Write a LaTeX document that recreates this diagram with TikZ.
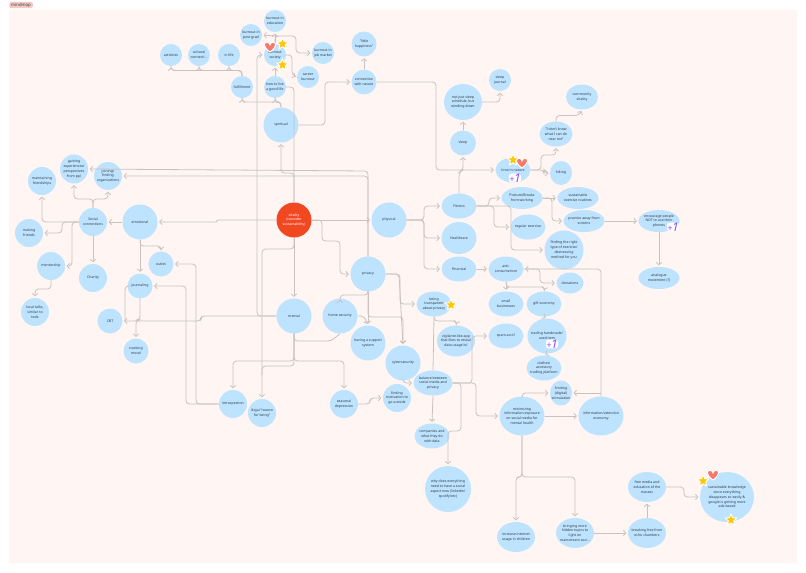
\documentclass[tikz,border=0pt]{standalone}
\usepackage{fontspec}
\setmainfont{Noto Sans}
\usetikzlibrary{arrows.meta, shapes.geometric}

\definecolor{panel}{HTML}{FFF5F3}
\definecolor{bubble}{HTML}{BDE3FF}
\definecolor{hub}{HTML}{F24822}
\definecolor{wire}{HTML}{C9C2BE}
\definecolor{inkgray}{HTML}{2F3B45}
\definecolor{tagpink}{HTML}{F6C9C2}
\definecolor{sunny}{HTML}{FFC700}
\definecolor{salmon}{HTML}{F8796A}
\definecolor{violet}{HTML}{9747FF}

\tikzset{
    x=1pt, y=-1pt,
    idea/.style 2 args={ellipse, fill=bubble, text=inkgray, minimum width=#1pt, minimum height=#2pt,
        inner sep=-6pt, align=center, font=\fontsize{3.5}{4.8}\selectfont},
    link/.style={draw=wire, line width=0.8pt, rounded corners=3.5pt},
    pointer/.style={link, -{Straight Barb[length=2.4pt, width=5.5pt]}, shorten >=1.5pt},
    starmark/.style={star, star points=5, star point ratio=2.1, fill=sunny, draw=white, line width=0.9pt,
        minimum size=12pt, inner sep=0pt},
    plusmark/.style={fill=white, rounded corners=2.5pt, text=violet, inner sep=0.2pt,
        font=\fontsize{12}{12}\selectfont\bfseries\itshape},
    heartmark/.pic={
        \draw [fill=salmon, draw=white, line width=0.9pt] (0, 5) .. controls (-7, 0) and (-7, -5) .. (-2.5, -4.7)
            .. controls (-1, -4.5) and (0, -3) .. (0, -2) .. controls (0, -3) and (1, -4.5) .. (2.5, -4.7)
            .. controls (7, -5) and (7, 0) .. (0, 5) -- cycle;
    },
}

\begin{document}
\begin{tikzpicture}
    \useasboundingbox (0, 0) rectangle (806, 573);

    \fill [panel, rounded corners=1pt] (9, 9.5) rectangle (797, 563);
    \node [fill=tagpink, rounded corners=1.5pt, minimum width=23.5pt, minimum height=6.3pt, inner sep=0pt,
        text=inkgray, font=\fontsize{4.3}{5}\selectfont] (tag) at (21, 5) {mindmap};

    % hub and the big branches
    \node [idea={35}{35}, fill=hub, text=white] (hub) at (294, 220) {vitality\\(consider\\sustainability)};
    \node [idea={35}{35}] (physical) at (389, 220) {physical};
    \node [idea={35}{35}] (spiritual) at (281, 125) {spiritual};
    \node [idea={35}{35}] (mental) at (294, 316) {mental};
    \node [idea={35}{35}] (emotional) at (140, 222) {emotional};
    \node [idea={35}{35}] (privacy) at (368, 274) {privacy};

    % spiritual side
    \node [idea={22}{22}] (education) at (275, 21) {burnout in\\education};
    \node [idea={22}{22}] (postgrad) at (251, 35) {burnout in\\post grad};
    \node [idea={22}{22}] (society) at (275, 55) {burnout\\society};
    \node [idea={22}{22}] (jobmarket) at (323, 53) {burnout in\\job market};
    \node [idea={22}{22}] (career) at (308, 77) {career\\burnout};
    \node [idea={22}{22}] (activities) at (171, 55) {activities};
    \node [idea={22}{22}] (cultural) at (199, 55) {cultural\\connecti...};
    \node [idea={22}{22}] (inlife) at (229, 55) {in life};
    \node [idea={22}{22}] (fulfillment) at (242, 87) {fulfillment};
    \node [idea={22}{22}] (goodlife) at (275, 87) {how to live\\a good life};
    \node [idea={25}{25}] (nature) at (364, 82) {connection\\with nature};
    \node [idea={25}{25}] (little) at (364, 44) {"little\\happiness"};

    % physical side
    \node [idea={22}{22}] (journal) at (500, 80) {sleep\\journal};
    \node [idea={38}{36}] (winding) at (463, 102) {not just sleep\\schedule, but\\winding down};
    \node [idea={26}{25}] (sleep) at (463, 143) {sleep};
    \node [idea={32}{25}] (vitality) at (582, 97) {community\\vitality};
    \node [idea={33}{25}] (nearme) at (556, 134) {"I don't know\\what I can do\\near me"};
    \node [idea={35}{25}] (timenature) at (513, 170) {time in nature};
    \node [idea={22}{24}] (hiking) at (561, 173) {hiking};
    \node [idea={35}{25}] (fitness) at (459, 206) {Fitness};
    \node [idea={35}{32}] (healthcare) at (459, 238) {Healthcare};
    \node [idea={35}{25}] (financial) at (459, 269) {Financial};
    \node [idea={41}{22}] (posture) at (522, 198) {Posture/Breaks\\from working};
    \node [idea={41}{22}] (routines) at (578, 198) {sustainable\\exercise routines};
    \node [idea={41}{22}] (screens) at (584, 221) {practice away from\\screens};
    \node [idea={41}{22}] (phones) at (659, 221) {encourage people\\NOT to use their\\phones};
    \node [idea={41}{22}] (analogue) at (659, 278) {analogue\\movement (?)};
    \node [idea={35}{25}] (regular) at (528, 227) {regular exercise};
    \node [idea={39}{39}] (method) at (564, 250) {finding the right\\type of exercise/\\destressing\\method for you};
    \node [idea={35}{25}] (anti) at (506, 269) {anti-\\consumerism};
    \node [idea={27}{21}] (donations) at (570, 283) {donations};
    \node [idea={35}{25}] (small) at (506, 304) {small\\businesses};
    \node [idea={35}{25}] (gift) at (544, 304) {gift economy};
    \node [idea={35}{25}] (spam) at (506, 336) {spam accs?};
    \node [idea={39}{35}] (trading) at (547, 336) {trading handmade/\\used item};
    \node [idea={35}{25}] (clothes) at (544, 368) {clothes/\\accessory\\trading platform};

    % privacy side
    \node [idea={35}{35}] (home) at (340, 316) {home security};
    \node [idea={35}{35}] (support) at (368, 343) {having a support\\system};
    \node [idea={35}{35}] (cyber) at (403, 363) {cybersecurity};
    \node [idea={35}{25}] (transparent) at (434, 304) {being\\transparent\\about privacy};
    \node [idea={38}{31}] (vigilante) at (456, 341) {vigilante-like app\\that likes to reveal\\data usage lol};
    \node [idea={39}{25}] (balance) at (433, 383) {balance between\\social media and\\privacy};
    \node [idea={35}{25}] (companies) at (432, 436) {companies and\\what they do\\with data};
    \node [idea={46}{46}] (linkedin) at (448, 489) {why does everything\\need to have a social\\aspect now (linkedin/\\spotify/etc)};
    \node [idea={28}{28}] (outside) at (397, 398) {finding\\motivation to\\go outside};
    \node [idea={28}{28}] (seasonal) at (344, 404) {seasonal\\depression};
    \node [idea={28}{28}] (ikigai) at (262, 413) {ikigai "reason\\for being"};
    \node [idea={28}{28}] (introspection) at (233, 404) {introspection};

    % lower right
    \node [idea={22}{25}] (stimulation) at (561, 393) {limiting\\(digital)\\stimulation};
    \node [idea={45}{39}] (minimizing) at (522, 416) {minimizing\\information exposure\\on social media for\\mental health};
    \node [idea={45}{39}] (attention) at (601, 416) {information/attention\\economy};
    \node [idea={38}{30}] (children) at (516, 537) {increase internet\\usage in children};
    \node [idea={38}{30}] (hidden) at (575, 533) {bringing more\\hidden topics to\\light on\\mainstream soci...};
    \node [idea={38}{30}] (echo) at (647, 533) {breaking free from\\echo chambers};
    \node [idea={38}{30}] (freemedia) at (647, 487) {free media and\\education of the\\masses};
    \node [idea={54}{50}] (knowledge) at (727, 497) {sustainable knowledge\\since everything\\disappears so easily \&\\google is getting more\\ads-based};

    % emotional side
    \node [idea={28}{28}] (social) at (93, 222) {Social\\connections};
    \node [idea={25}{25}] (outlet) at (161, 264) {outlet};
    \node [idea={25}{25}] (journaling) at (140, 286) {journaling};
    \node [idea={25}{25}] (cbt) at (110, 321) {CBT};
    \node [idea={25}{25}] (mood) at (136, 351) {tracking\\mood};
    \node [idea={28}{28}] (charity) at (93, 278) {Charity};
    \node [idea={28}{28}] (mentorship) at (51, 266) {mentorship};
    \node [idea={28}{28}] (friends) at (29, 233) {making\\friends};
    \node [idea={28}{28}] (talks) at (35, 312) {local talks,\\similar to\\teds};
    \node [idea={28}{28}] (maintaining) at (42, 181) {maintaining\\friendships};
    \node [idea={28}{29}] (gaining) at (74, 169) {gaining\\experiences/\\perspectives\\from ppl};
    \node [idea={28}{28}] (joining) at (108, 176) {joining/\\finding\\organizations};

    % hub links
    \draw [pointer] (hub.south) -- (mental.north);
    \draw [pointer] (hub.east) -- (physical.west);
    \draw [pointer] (hub.east) -- (322, 220) -- (322, 241) -- (340, 241) -- (340, 274) -- (privacy.west);
    \draw [pointer, rounded corners=1pt] (hub.west) -- (217, 220) -- (217, 222) -- (emotional.east);
    \draw [pointer] (hub.north) -- (294, 173) -- (281, 173) -- (spiritual.south);
    \draw [link] (goodlife.east) -- (294, 87) -- (hub.north);
    \draw [pointer] (hub.south) -- (294, 249) -- (262, 249) -- (ikigai.north);

    % spiritual links
    \draw [pointer] (spiritual.north) -- (281, 102) -- (275, 102) -- (goodlife.south);
    \draw [pointer] (spiritual.north) -- (281, 102) -- (242, 102) -- (fulfillment.south);
    \draw [pointer] (fulfillment.north) -- (242, 70.5) -- (171, 70.5) -- (activities.south);
    \draw [pointer] (fulfillment.north) -- (242, 70.5) -- (199, 70.5) -- (cultural.south);
    \draw [pointer] (fulfillment.north) -- (242, 70.5) -- (229, 70.5) -- (inlife.south);
    \draw [pointer] (goodlife.north) -- (society.south);
    \draw [pointer] (society.north) -- (education.south);
    \draw [pointer] (275, 36) -- (postgrad.east);
    \draw [pointer] (society.north) -- (275, 36) -- (296, 36) -- (296, 53) -- (jobmarket.west);
    \draw [pointer] (society.east) -- (292, 55) -- (292, 75) -- (career.west);
    \draw [pointer] (spiritual.east) -- (325, 125) -- (325, 82) -- (nature.west);
    \draw [pointer] (nature.north) -- (little.south);
    \draw [pointer] (nature.east) -- (436, 82) -- (436, 170) -- (timenature.west);
    \draw [pointer] (mental.west) -- (257, 316) -- (257, 55) -- (society.west);

    % physical links
    \draw [pointer] (physical.east) -- (424, 220) -- (424, 206) -- (fitness.west);
    \draw [pointer] (physical.east) -- (424, 220) -- (424, 238) -- (healthcare.west);
    \draw [pointer] (physical.east) -- (424, 220) -- (424, 269) -- (financial.west);
    \draw [pointer] (fitness.north) -- (459, 172) -- (463, 170) -- (sleep.south);
    \draw [pointer] (sleep.north) -- (winding.south);
    \draw [pointer] (winding.east) -- (500, 102) -- (journal.south);
    \draw [pointer] (timenature.east) -- (541, 170) -- (541, 155) -- (556, 155) -- (nearme.south);
    \draw [pointer] (timenature.east) -- (544, 170) -- (544, 173) -- (hiking.west);
    \draw [pointer] (nearme.north) -- (556, 115.5) -- (579, 115.5) -- (vitality.south);
    \draw [pointer] (fitness.east) -- (489, 206) -- (489, 198) -- (posture.west);
    \draw [pointer] (fitness.east) -- (494, 206) -- (494, 227) -- (regular.west);
    \draw [pointer] (fitness.east) -- (511, 206) -- (511, 250) -- (method.west);
    \draw [pointer] (posture.east) -- (routines.west);
    \draw [pointer] (posture.east) -- (552, 198) -- (552, 221) -- (screens.west);
    \draw [pointer] (screens.east) -- (phones.west);
    \draw [pointer] (phones.south) -- (analogue.north);
    \draw [pointer] (financial.east) -- (anti.west);
    \draw [pointer] (anti.south) -- (small.north);
    \draw [pointer] (anti.south) -- (506, 287) -- (545, 287) -- (gift.north);
    \draw [pointer] (anti.east) -- (540, 269) -- (540, 283) -- (donations.west);
    \draw [pointer] (gift.south) -- (trading.north);
    \draw [pointer] (trading.south) -- (clothes.north);
    \draw [pointer] (attention.north) -- (601, 269) -- (anti.east);
    \draw [pointer] (601, 393) -- (stimulation.east);

    % privacy links
    \draw [pointer] (privacy.north) -- (368, 171) -- (gaining.east);
    \draw [pointer] (privacy.north) -- (368, 176) -- (joining.east);
    \draw [pointer] (privacy.south) -- (support.north);
    \draw [pointer] (privacy.south) -- (368, 317) -- (403, 317) -- (cyber.north);
    \draw [pointer] (privacy.south) -- (368, 295) -- (340, 295) -- (home.north);
    \draw [pointer] (home.east) -- (364, 316) -- (support.north);
    \draw [link] (home.south) -- (331, 341) -- (294, 341) -- (mental.south);
    \draw [pointer] (privacy.east) -- (400, 274) -- (400, 304) -- (transparent.west);
    \draw [pointer] (privacy.east) -- (399, 274) -- (cyber.north);
    \draw [pointer] (transparent.south) -- (434, 321) -- (457, 321) -- (vigilante.north);
    \draw [link] (transparent.south) -- (balance.north);
    \draw [pointer] (cyber.south) -- (403, 383) -- (balance.west);
    \draw [pointer] (balance.east) -- (472, 383) -- (472, 336) -- (spam.west);
    \draw [pointer] (balance.east) -- (476, 383) -- (476, 416) -- (minimizing.west);
    \draw [pointer] (balance.east) -- (461, 383) -- (461, 431) -- (448, 431) -- (linkedin.north);
    \draw [pointer] (balance.south) -- (companies.north);
    \draw [pointer] (seasonal.east) -- (370, 404) -- (370, 398) -- (outside.west);

    % mental links
    \draw [pointer] (mental.south) -- (294, 361) -- (233, 361) -- (introspection.north);
    \draw [pointer] (mental.south) -- (294, 361) -- (344, 361) -- (seasonal.north);
    \draw [link] (mental.south) -- (294, 366) -- (262, 366) -- (262, 375);
    \draw [pointer] (mental.west) -- (201, 316) -- (201, 321) -- (cbt.east);
    \draw [pointer] (introspection.west) -- (186, 404) -- (186, 286) -- (journaling.east);
    \draw [pointer] (introspection.west) -- (196, 404) -- (196, 264) -- (outlet.east);

    % emotional links
    \draw [pointer] (emotional.west) -- (social.east);
    \draw [pointer] (emotional.south) -- (journaling.north);
    \draw [pointer] (emotional.south) -- (140, 246) -- (161, 246) -- (outlet.north);
    \draw [link] (journaling.west) -- (125, 286) -- (125, 321);
    \draw [pointer] (journaling.south) -- (140, 320) -- (136, 320) -- (mood.north);
    \draw [pointer] (social.south) -- (charity.north);
    \draw [pointer] (social.west) -- (72, 222) -- (72, 266) -- (mentorship.east);
    \draw [pointer] (social.west) -- (62, 222) -- (62, 233) -- (friends.east);
    \draw [pointer] (social.west) -- (42, 222) -- (maintaining.south);
    \draw [pointer] (social.north) -- (93, 199) -- (74, 199) -- (gaining.south);
    \draw [pointer] (social.north) -- (93, 199) -- (108, 199) -- (joining.south);
    \draw [pointer] (mentorship.south) -- (51, 289) -- (35, 289) -- (talks.north);

    % lower right links
    \draw [pointer] (minimizing.north) -- (522, 393) -- (stimulation.west);
    \draw [pointer] (minimizing.east) -- (attention.west);
    \draw [pointer] (minimizing.south) -- (522, 477) -- (516, 477) -- (children.north);
    \draw [pointer] (minimizing.south) -- (522, 477) -- (575, 477) -- (hidden.north);
    \draw [pointer] (hidden.east) -- (echo.west);
    \draw [pointer] (echo.north) -- (freemedia.south);
    \draw [pointer] (freemedia.east) -- (684, 487) -- (684, 497) -- (knowledge.west);

    % stickers
    \foreach \point [count=\i] in {(282.5, 44), (282.5, 65), (451, 305), (513, 160), (703, 481), (731, 520)} {
        \node [starmark] (star\i) at \point {};
        }

    \foreach \point in {(270, 47), (522, 163), (713, 475)} {
        \pic at \point {heartmark};
        }

    \foreach \point [count=\i] in {(515, 178), (673, 227), (552, 344)} {
        \node [plusmark] (plus\i) at \point {{\fontsize{9}{9}\selectfont +}\kern-0.5pt 1};
        }
\end{tikzpicture}
\end{document}
